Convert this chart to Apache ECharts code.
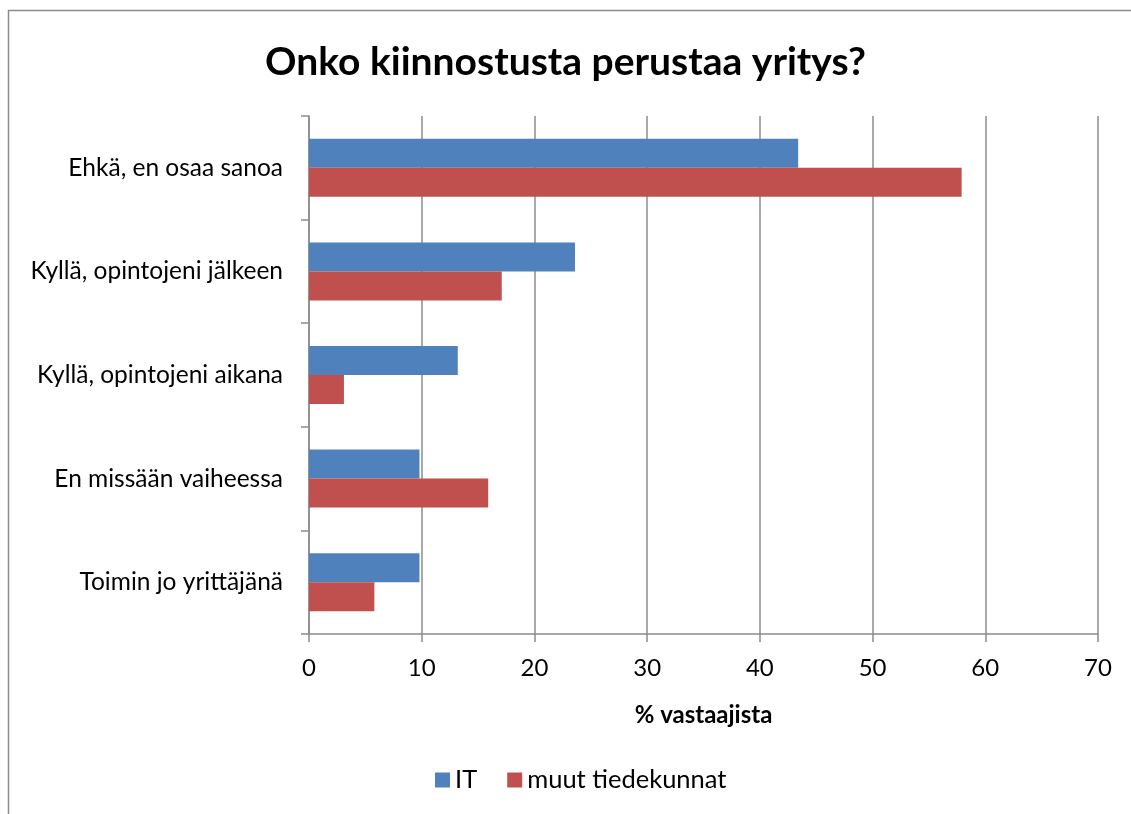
<!DOCTYPE html>
<html>
<head>
<meta charset="utf-8">
<script src="https://cdn.jsdelivr.net/npm/echarts@6/dist/echarts.min.js"></script>
<style>
  html, body { margin: 0; padding: 0; background: #fff; }
  #chart { width: 1131px; height: 814px; }
</style>
</head>
<body>
<div id="chart"></div>
<script>
// vastausvaihtoehdot
const categories = [
  'Ehkä, en osaa sanoa',
  'Kyllä, opintojeni jälkeen',
  'Kyllä, opintojeni aikana',
  'En missään vaiheessa',
  'Toimin jo yrittäjänä'
];
const itValues = [43.4, 23.6, 13.2, 9.8, 9.8];
const muutValues = [57.9, 17.1, 3.1, 15.9, 5.8];
const xTicks = [0, 10, 20, 30, 40, 50, 60, 70];

const chart = echarts.init(document.getElementById('chart'));
const font = 'Lato, "Open Sans", sans-serif';

chart.setOption({
  animation: false,
  textStyle: { fontFamily: font },
  title: {
    text: 'Onko kiinnostusta perustaa yritys?',
    left: 'center',
    top: 38,
    textStyle: { fontSize: 39, fontWeight: 'bold', color: '#000', fontFamily: font }
  },
  graphic: [{
    type: 'rect',
    shape: { x: 8.5, y: 10.5, width: 1140, height: 820 },
    style: { fill: 'none', stroke: '#8c8c8c', lineWidth: 1.5 },
    silent: true
  }],
  legend: {
    bottom: 16,
    left: 430,
    itemWidth: 15,
    itemHeight: 15,
    itemGap: 30,
    icon: 'rect',
    textStyle: { fontSize: 25.5, color: '#000', fontFamily: font },
    data: ['IT', 'muut tiedekunnat']
  },
  grid: { left: 309, right: 33, top: 116, bottom: 180, containLabel: false },
  xAxis: {
    type: 'value',
    min: 0,
    max: 70,
    interval: 10,
    name: '% vastaajista',
    nameLocation: 'middle',
    nameGap: 69,
    nameTextStyle: { fontSize: 24, fontWeight: 'bold', color: '#000', fontFamily: font },
    axisLine: { show: true, lineStyle: { color: '#8c8c8c', width: 1.5 } },
    axisTick: { show: true, length: 8, lineStyle: { color: '#8c8c8c', width: 1.5 } },
    axisLabel: {
      fontSize: 24, color: '#000', margin: 22, fontFamily: font,
      formatter: v => xTicks.includes(v) ? String(v) : ''
    },
    splitLine: { show: true, lineStyle: { color: '#8c8c8c', width: 1.5 } }
  },
  yAxis: {
    type: 'category',
    inverse: true,
    data: categories,
    axisLine: { show: true, lineStyle: { color: '#8c8c8c', width: 1.5 } },
    axisTick: { show: true, length: 8, alignWithLabel: false, lineStyle: { color: '#8c8c8c', width: 1.5 } },
    axisLabel: { fontSize: 24.5, color: '#000', margin: 26, fontFamily: font }
  },
  series: [
    {
      name: 'IT',
      type: 'bar',
      data: itValues,
      barGap: '0%',
      barCategoryGap: '44%',
      itemStyle: { color: '#4F81BD' }
    },
    {
      name: 'muut tiedekunnat',
      type: 'bar',
      data: muutValues,
      barGap: '0%',
      barCategoryGap: '44%',
      itemStyle: { color: '#C0504D' }
    }
  ]
});
</script>
</body>
</html>
